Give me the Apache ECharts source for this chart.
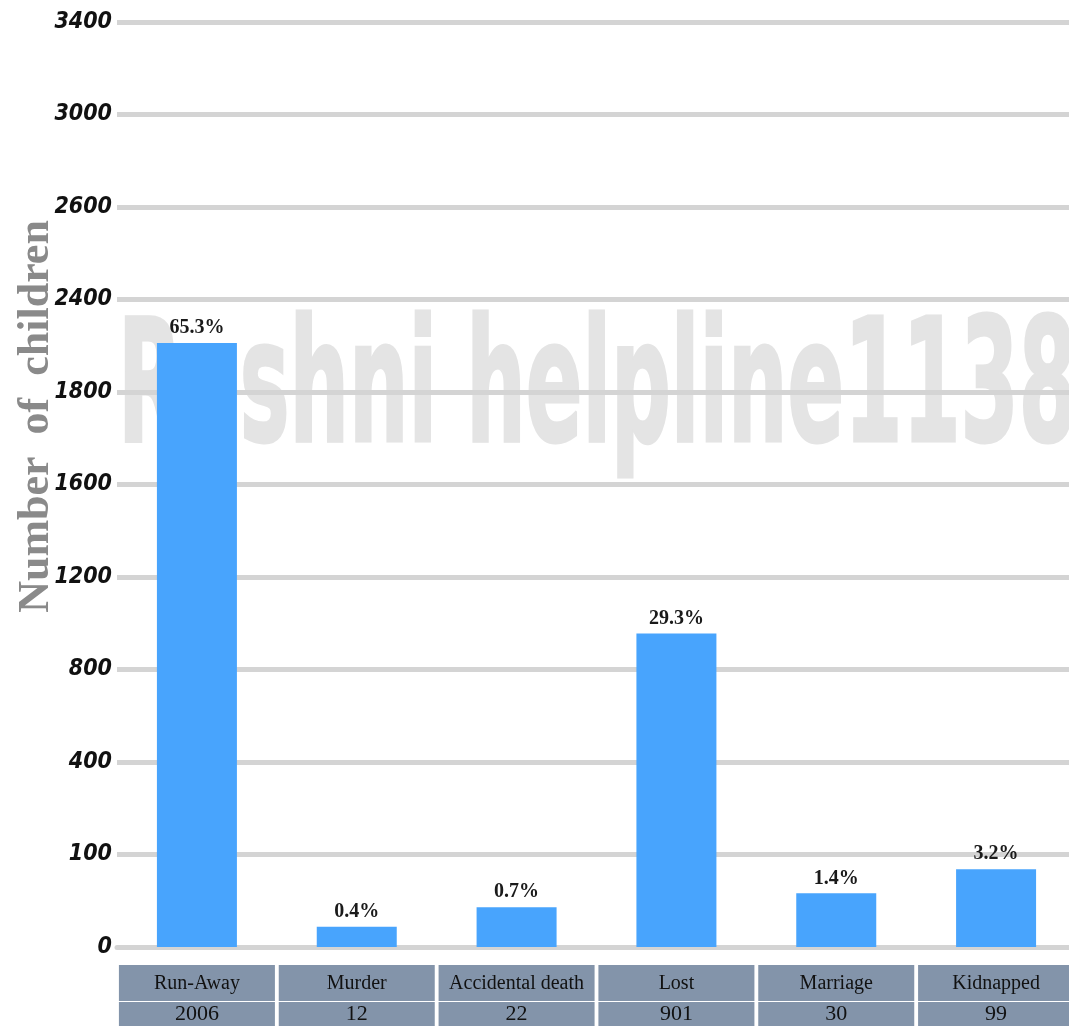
<!DOCTYPE html>
<html>
<head>
<meta charset="utf-8">
<script src="https://cdn.jsdelivr.net/npm/echarts@6/dist/echarts.min.js"></script>
<style>
html,body{margin:0;padding:0;background:#fff;}
#chart{width:1069px;height:1026px;}
</style>
</head>
<body>
<div id="chart"></div>
<script>
// Categories and table values
const categories = ['Run-Away', 'Murder', 'Accidental death', 'Lost', 'Marriage', 'Kidnapped'];
const counts = [2006, 12, 22, 901, 30, 99];
const percents = ['65.3%', '0.4%', '0.7%', '29.3%', '1.4%', '3.2%'];
// Bar heights as drawn, read against the (non-linear) labelled axis
const barHeights = [2118, 22, 43, 956, 58, 84];
// Tick labels of the y axis (equally spaced on the chart)
const yTicks = [0, 100, 400, 800, 1200, 1600, 1800, 2400, 2600, 3000, 3400];

// piecewise scale: value -> tick index position
function toScale(v) {
  for (let i = 0; i < yTicks.length - 1; i++) {
    if (v <= yTicks[i + 1]) {
      return i + (v - yTicks[i]) / (yTicks[i + 1] - yTicks[i]);
    }
  }
  return yTicks.length - 1;
}

const chart = echarts.init(document.getElementById('chart'));
const option = {
  backgroundColor: '#ffffff',
  animation: false,
  graphic: {
    elements: [{
      type: 'text',
      z: -100,
      silent: true,
      x: 118,
      y: 396,
      scaleX: 0.54,
      style: {
        text: 'Roshni helpline1138',
        font: 'bold 172px "DejaVu Sans Condensed", "DejaVu Sans"',
        fill: '#e4e4e4',
        stroke: '#e4e4e4',
        lineWidth: 3,
        textAlign: 'left',
        textVerticalAlign: 'middle',
        align: 'left',
        verticalAlign: 'middle'
      }
    }]
  },
  grid: { left: 117, right: -7, top: 22, bottom: 79, containLabel: false, outerBoundsMode: 'none' },
  xAxis: {
    type: 'category',
    data: categories,
    axisLine: { show: true, lineStyle: { color: '#d4d4d4', width: 5 } },
    axisTick: { show: false },
    axisLabel: {
      interval: 0,
      margin: 18,
      formatter: function (v, i) { return '{n|' + v + '}\n{v|' + counts[i] + '}'; },
      rich: {
        n: {
          width: 156, height: 37, align: 'center',
          backgroundColor: '#8394aa', borderColor: '#ffffff', borderWidth: 1,
          fontFamily: '"Liberation Serif", serif', fontSize: 20, color: '#111111'
        },
        v: {
          width: 156, height: 24, align: 'center',
          backgroundColor: '#8394aa', borderColor: '#ffffff', borderWidth: 1,
          fontFamily: '"Liberation Serif", serif', fontSize: 22, color: '#111111'
        }
      }
    }
  },
  yAxis: {
    type: 'value',
    min: 0,
    max: 10,
    interval: 1,
    name: 'Number  of  children',
    nameLocation: 'middle',
    nameGap: 58,
    nameMoveOverlap: false,
    nameTextStyle: {
      fontFamily: '"Liberation Serif", serif',
      fontSize: 44,
      fontWeight: 'bold',
      color: '#8a8a8a',
      padding: [0, 0, 0, 136]
    },
    axisLine: { show: false },
    axisTick: { show: false },
    axisLabel: {
      margin: 5,
      formatter: function (v) { return String(yTicks[Math.round(v)]); },
      fontFamily: '"DejaVu Sans Condensed", sans-serif',
      fontStyle: 'italic',
      fontWeight: 'bold',
      fontSize: 23,
      color: '#111111'
    },
    splitLine: { show: true, lineStyle: { color: '#d4d4d4', width: 5 } }
  },
  series: [{
    type: 'bar',
    data: barHeights.map(toScale),
    barWidth: 80,
    itemStyle: { color: '#48a4fd' },
    label: {
      show: true,
      position: 'top',
      distance: 5,
      formatter: function (p) { return percents[p.dataIndex]; },
      fontFamily: '"Liberation Serif", serif',
      fontSize: 20,
      fontWeight: 'bold',
      color: '#1a1a1a'
    }
  }]
};
chart.setOption(option);
</script>
</body>
</html>
